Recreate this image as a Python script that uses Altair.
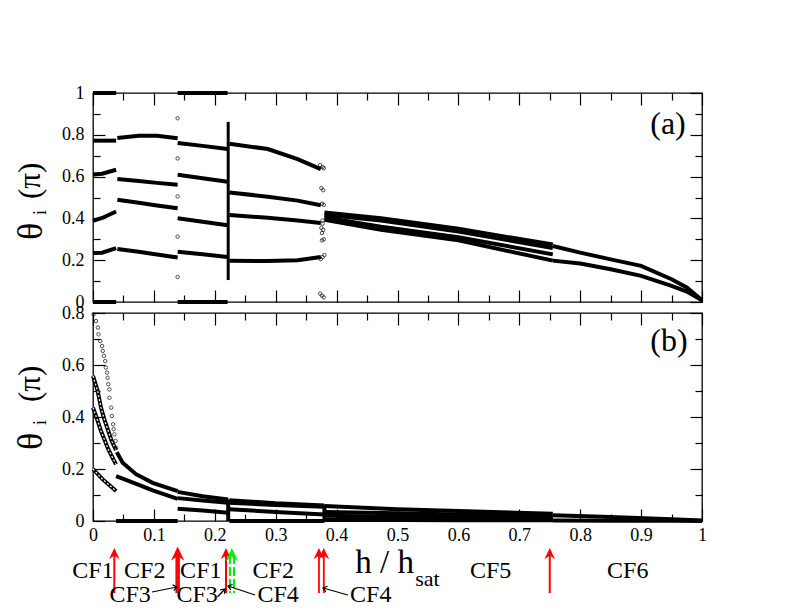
import math
import altair as alt
import pandas as pd

FONT = "Liberation Serif"
PW, HA, HB = 609, 209, 208

# ---------------- axis tick values ----------------
X_MAJOR = [0, 0.1, 0.2, 0.3, 0.4, 0.5, 0.6, 0.7, 0.8, 0.9, 1.0]
X_MINOR = [0.05, 0.15, 0.25, 0.35, 0.45, 0.55, 0.65, 0.75, 0.85, 0.95]
YA_MAJOR = [0, 0.2, 0.4, 0.6, 0.8, 1.0]
YA_MINOR = [0.1, 0.3, 0.5, 0.7, 0.9]
YB_MAJOR = [0, 0.2, 0.4, 0.6, 0.8]
YB_MINOR = [0.1, 0.3, 0.5, 0.7]

# ---------------- panel (a) ----------------
A_CF1_X = [0.0, 0.015, 0.038]
A_CF1_Y = [[1.0, 1.0, 1.0], [0.772, 0.772, 0.772], [0.61, 0.614, 0.633],
           [0.388, 0.402, 0.433], [0.235, 0.236, 0.258], [0.0, 0.0, 0.0]]
A_CF2_X = [0.04, 0.075, 0.105, 0.139]
A_CF2_Y = [[0.785, 0.795, 0.795, 0.783], [0.588, 0.579, 0.570, 0.561],
           [0.489, 0.475, 0.462, 0.449], [0.254, 0.240, 0.227, 0.213]]
A_CF1B_X = [0.139, 0.18, 0.221]
A_CF1B_Y = [[1.0, 1.0, 1.0], [0.761, 0.747, 0.732], [0.609, 0.592, 0.575],
            [0.401, 0.384, 0.367], [0.240, 0.228, 0.215], [0.0, 0.0, 0.0]]
A_VERT_X = [0.222, 0.222]
A_VERT_Y = [0.105, 0.862]
A_CF2B_X = [0.224, 0.287, 0.336, 0.374]
A_CF2B_Y = [[0.757, 0.732, 0.684, 0.636], [0.524, 0.504, 0.485, 0.463],
            [0.416, 0.403, 0.390, 0.378], [0.197, 0.196, 0.200, 0.215]]
A_CF5_X = [0.38, 0.473, 0.6, 0.755]
A_CF5_Y = [[0.428, 0.401, 0.350, 0.275], [0.418, 0.390, 0.337, 0.258],
           [0.405, 0.360, 0.310, 0.228], [0.393, 0.346, 0.295, 0.198]]
A_CF6_X = [0.755, 0.8, 0.85, 0.9, 0.95, 0.975, 1.0]
A_CF6_Y = [[0.268, 0.236, 0.204, 0.173, 0.109, 0.070, 0.008],
           [0.198, 0.184, 0.157, 0.125, 0.077, 0.050, 0.008]]
A_SCAT_X = [0.139, 0.139, 0.139, 0.139, 0.139,
            0.373, 0.377, 0.379, 0.375, 0.378, 0.376, 0.379, 0.377, 0.377,
            0.375, 0.378, 0.376, 0.376, 0.379, 0.374, 0.377, 0.380, 0.373, 0.376, 0.379]
A_SCAT_Y = [0.879, 0.687, 0.505, 0.313, 0.120,
            0.655, 0.645, 0.640, 0.545, 0.535, 0.470, 0.465, 0.390, 0.375,
            0.355, 0.345, 0.330, 0.295, 0.300, 0.205, 0.215, 0.225, 0.040, 0.030, 0.022]

# ---------------- panel (b) ----------------
B_OPEN_X = [0.001, 0.005, 0.008, 0.009, 0.012, 0.015, 0.016, 0.018, 0.020, 0.021, 0.023,
            0.024, 0.025, 0.027, 0.027, 0.030, 0.031, 0.033, 0.034, 0.035, 0.037, 0.038]
B_OPEN_Y = [0.795, 0.769, 0.744, 0.718, 0.692, 0.673, 0.654, 0.635, 0.615, 0.590, 0.571,
            0.551, 0.526, 0.506, 0.474, 0.436, 0.404, 0.372, 0.353, 0.333, 0.308, 0.282]
B_HOL1_X = [0.0, 0.0077, 0.0131, 0.0186, 0.0241, 0.0306, 0.0378]
B_HOL1_Y = [0.558, 0.500, 0.436, 0.391, 0.353, 0.308, 0.273]
B_HOL2_X = [0.0, 0.0077, 0.0131, 0.0186, 0.024, 0.0306, 0.0378]
B_HOL2_Y = [0.436, 0.385, 0.346, 0.314, 0.282, 0.250, 0.218]
B_HOL3_X = [0.0, 0.016, 0.038]
B_HOL3_Y = [0.200, 0.160, 0.115]
B_CF2U_X = [0.039, 0.0487, 0.0706, 0.098, 0.139]
B_CF2U_Y = [0.265, 0.224, 0.180, 0.147, 0.115]
B_CF2L_X = [0.038, 0.07, 0.098, 0.139]
B_CF2L_Y = [0.173, 0.144, 0.118, 0.085]
B_ZERO1_X = [0.038, 0.139]
B_ZERO1_Y = [0.0, 0.0]
B_CF1B_X = [0.139, 0.18, 0.222]
B_CF1B_Y = [[0.112, 0.095, 0.083], [0.088, 0.079, 0.070], [0.047, 0.040, 0.032]]
B_VERT1_X = [0.222, 0.222]
B_VERT1_Y = [0.083, 0.0]
B_CF2B_X = [0.224, 0.3, 0.38]
B_CF2B_Y = [[0.080, 0.068, 0.060], [0.070, 0.062, 0.055], [0.045, 0.035, 0.025], [0.0, 0.0, 0.0]]
B_VERT2_X = [0.38, 0.38]
B_VERT2_Y = [0.060, 0.0]
B_CF5_X = [0.38, 0.5, 0.6, 0.755]
B_CF5_Y = [[0.058, 0.045, 0.038, 0.028], [0.035, 0.030, 0.025, 0.018],
           [0.020, 0.016, 0.013, 0.010], [0.004, 0.004, 0.003, 0.003]]
B_CF6_X = [0.755, 0.85, 0.95, 1.0]
B_CF6_Y = [[0.022, 0.015, 0.007, 0.002], [0.002, 0.001, 0.0005, 0.0]]

# ---------------- annotations below the axis ----------------
RED_X = [0.035, 0.139, 0.2184, 0.371, 0.379, 0.75]
RED_W = [2.0, 4.5, 2.0, 1.8, 1.8, 2.0]
RED_HEAD = [140, 220, 140, 140, 140, 140]
GREEN_X = [0.225, 0.2315]
GREEN_HEAD_X = [0.228]
CF_TOP = ["CF1", "CF2", "CF1", "CF2", "CF5", "CF6"]
CF_TOP_X = [0.0, 0.085, 0.177, 0.296, 0.653, 0.878]
CF_BOT = ["CF3", "CF3", "CF4", "CF4"]
CF_BOT_X = [0.061, 0.171, 0.304, 0.456]
BLK_X1 = [0.0969, 0.2044, 0.266, 0.4187]
BLK_Y1 = [279, 284, 282, 282]
BLK_X2 = [0.1379, 0.2167, 0.2217, 0.3777]
BLK_Y2 = [274, 276, 273, 275]


def build(groups):
    rows = []
    for name, xs, ys in groups:
        for i, (x, y) in enumerate(zip(xs, ys)):
            rows.append({"s": name, "o": i, "x": x, "y": y})
    return pd.DataFrame(rows)


XS = alt.Scale(domain=[0, 1], nice=False, zero=False)
YSA = alt.Scale(domain=[0, 1], nice=False, zero=False)
YSB = alt.Scale(domain=[0, 0.8], nice=False, zero=False)


def ax(orient, values, size, labels=False, pad=0):
    kw = dict(orient=orient, values=values, tickSize={"expr": f"-{size}"}, domain=False,
              grid=False, ticks=True, tickColor="black", tickWidth=1.2, labels=labels, title=None)
    if labels:
        kw.update(labelFont=FONT, labelFontSize=18, labelColor="black", labelPadding=size + pad,
                  format="~g", labelFlush=False, labelOverlap=False)
    return alt.Axis(**kw)


def axis_layers(ysc, ymaj, ymin, xlabels, ydummy):
    dummy = pd.DataFrame({"x": [0.5], "y": [ydummy]})
    base = alt.Chart(dummy).mark_point(opacity=0)
    return [
        base.encode(x=alt.X("x:Q", scale=XS, axis=ax("bottom", X_MAJOR, 12, xlabels, 5)),
                    y=alt.Y("y:Q", scale=ysc, axis=ax("left", ymaj, 12, True, 9))),
        base.encode(x=alt.X("x:Q", scale=XS, axis=ax("bottom", X_MINOR, 7)),
                    y=alt.Y("y:Q", scale=ysc, axis=ax("left", ymin, 7))),
        base.encode(x=alt.X("x:Q", scale=XS, axis=ax("top", X_MAJOR, 12)),
                    y=alt.Y("y:Q", scale=ysc, axis=ax("right", ymaj, 12))),
        base.encode(x=alt.X("x:Q", scale=XS, axis=ax("top", X_MINOR, 7)),
                    y=alt.Y("y:Q", scale=ysc, axis=ax("right", ymin, 7))),
    ]


def line_layer(df, ysc, width, color="black", dash=None):
    kw = dict(color=color, strokeWidth=width)
    if dash:
        kw["strokeDash"] = dash
    return alt.Chart(df).mark_line(**kw).encode(
        x=alt.X("x:Q", scale=XS, axis=None),
        y=alt.Y("y:Q", scale=ysc, axis=None),
        detail="s:N", order="o:Q")


def pixel_text(df):
    return alt.Chart(df).mark_text(font=FONT, color="black", angle=270, align="left",
                                   baseline="middle").encode(
        x=alt.X("px:Q", scale=None, axis=None), y=alt.Y("py:Q", scale=None, axis=None),
        size=alt.Size("fs:Q", scale=None, legend=None), text="t:N")


# ---------- panel (a) data frame ----------
ga = []
for k, ys in enumerate(A_CF1_Y):
    ga.append((f"cf1_{k}", A_CF1_X, ys))
for k, ys in enumerate(A_CF2_Y):
    ga.append((f"cf2_{k}", A_CF2_X, ys))
for k, ys in enumerate(A_CF1B_Y):
    ga.append((f"cf1b_{k}", A_CF1B_X, ys))
for k, ys in enumerate(A_CF2B_Y):
    ga.append((f"cf2b_{k}", A_CF2B_X, ys))
for k, ys in enumerate(A_CF5_Y):
    ga.append((f"cf5_{k}", A_CF5_X, ys))
for k, ys in enumerate(A_CF6_Y):
    ga.append((f"cf6_{k}", A_CF6_X, ys))
dfA = build(ga)
dfAv = build([("vert", A_VERT_X, A_VERT_Y)])
dfAs = pd.DataFrame({"x": A_SCAT_X, "y": A_SCAT_Y})

titleA = pd.DataFrame({"t": ["θ", "i", "(π)"], "px": [-62, -52, -62], "py": [147, 122, 106],
                       "fs": [36, 18, 31]})
labA = pd.DataFrame({"t": ["(a)"], "px": [575], "py": [31]})

panelA = alt.layer(
    *axis_layers(YSA, YA_MAJOR, YA_MINOR, False, 0.5),
    line_layer(dfA, YSA, 4),
    line_layer(dfAv, YSA, 3),
    alt.Chart(dfAs).mark_point(shape="circle", filled=False, color="black", size=12,
                               strokeWidth=1).encode(
        x=alt.X("x:Q", scale=XS, axis=None), y=alt.Y("y:Q", scale=YSA, axis=None)),
    pixel_text(titleA),
    alt.Chart(labA).mark_text(font=FONT, fontSize=32, color="black").encode(
        x=alt.X("px:Q", scale=None, axis=None), y=alt.Y("py:Q", scale=None, axis=None),
        text="t:N"),
).resolve_scale(x="shared", y="shared").resolve_axis(x="independent", y="independent").properties(
    width=PW, height=HA)

# ---------- panel (b) data frames ----------
gb = [("u", B_CF2U_X, B_CF2U_Y), ("l", B_CF2L_X, B_CF2L_Y), ("z1", B_ZERO1_X, B_ZERO1_Y),
      ("v1", B_VERT1_X, B_VERT1_Y), ("v2", B_VERT2_X, B_VERT2_Y)]
for k, ys in enumerate(B_CF1B_Y):
    gb.append((f"cf1b_{k}", B_CF1B_X, ys))
for k, ys in enumerate(B_CF2B_Y):
    gb.append((f"cf2b_{k}", B_CF2B_X, ys))
for k, ys in enumerate(B_CF5_Y):
    gb.append((f"cf5_{k}", B_CF5_X, ys))
for k, ys in enumerate(B_CF6_Y):
    gb.append((f"cf6_{k}", B_CF6_X, ys))
dfB = build(gb)
dfBh = build([("h1", B_HOL1_X, B_HOL1_Y), ("h2", B_HOL2_X, B_HOL2_Y), ("h3", B_HOL3_X, B_HOL3_Y)])
dfBo = pd.DataFrame({"x": B_OPEN_X, "y": B_OPEN_Y})

titleB = pd.DataFrame({"t": ["θ", "i", "(π)"], "px": [-62, -52, -62], "py": [137, 112, 89],
                       "fs": [36, 18, 31]})
labB = pd.DataFrame({"t": ["(b)"], "px": [576], "py": [28]})

dfRed = pd.DataFrame({"x": RED_X, "w": RED_W, "hs": RED_HEAD})
dfGreen = pd.DataFrame({"x": GREEN_X})
dfGreenHead = pd.DataFrame({"x": GREEN_HEAD_X})
dfCfTop = pd.DataFrame({"t": CF_TOP, "x": CF_TOP_X})
dfCfBot = pd.DataFrame({"t": CF_BOT, "x": CF_BOT_X})
blk_ang = []
for x1, y1, x2, y2 in zip(BLK_X1, BLK_Y1, BLK_X2, BLK_Y2):
    a = math.degrees(math.atan2(y2 - y1, (x2 - x1) * PW)) % 360
    blk_ang.append(a)
dfBlk = pd.DataFrame({"x1": BLK_X1, "y1": BLK_Y1, "x2": BLK_X2, "y2": BLK_Y2, "ang": blk_ang})
dfXT = pd.DataFrame({"t": ["h / h"], "x": [0.527], "y": [260]})
dfXS = pd.DataFrame({"t": ["sat"], "x": [0.529], "y": [273]})

HEAD = "M0,-1 L0.9,0.9 L0,0.25 L-0.9,0.9 Z"
OPEN_HEAD = "M-1,-0.75 L0,0 L-1,0.75"

xdat = alt.X("x:Q", scale=XS, axis=None)

panelB = alt.layer(
    *axis_layers(YSB, YB_MAJOR, YB_MINOR, True, 0.4),
    line_layer(dfB, YSB, 4),
    line_layer(dfBh, YSB, 4),
    line_layer(dfBh, YSB, 1.2, color="white", dash=[2, 2]),
    alt.Chart(dfBo).mark_point(shape="circle", filled=False, color="black", size=12,
                               strokeWidth=1).encode(
        x=xdat, y=alt.Y("y:Q", scale=YSB, axis=None)),
    pixel_text(titleB),
    alt.Chart(labB).mark_text(font=FONT, fontSize=32, color="black").encode(
        x=alt.X("px:Q", scale=None, axis=None), y=alt.Y("py:Q", scale=None, axis=None),
        text="t:N"),
    alt.Chart(dfRed).mark_rule(color="#ff0000").encode(
        x=xdat, y=alt.value(241), y2=alt.value(280),
        size=alt.Size("w:Q", scale=None, legend=None)),
    alt.Chart(dfRed).mark_point(shape=HEAD, filled=True, color="#ff0000", opacity=1).encode(
        x=xdat, y=alt.value(241), size=alt.Size("hs:Q", scale=None, legend=None)),
    alt.Chart(dfGreen).mark_rule(color="#00ee00", strokeWidth=2, strokeDash=[9, 3]).encode(
        x=xdat, y=alt.value(242), y2=alt.value(280)),
    alt.Chart(dfGreenHead).mark_point(shape=HEAD, filled=True, color="#00ee00", opacity=1,
                                      size=190).encode(x=xdat, y=alt.value(242)),
    alt.Chart(dfBlk).mark_rule(color="black", strokeWidth=1.2).encode(
        x=alt.X("x1:Q", scale=XS, axis=None), x2="x2:Q",
        y=alt.Y("y1:Q", scale=None, axis=None), y2="y2:Q"),
    alt.Chart(dfBlk).mark_point(shape=OPEN_HEAD, filled=False, color="black", strokeWidth=1.2,
                                size=60, opacity=1).encode(
        x=alt.X("x2:Q", scale=XS, axis=None), y=alt.Y("y2:Q", scale=None, axis=None),
        angle=alt.Angle("ang:Q", scale=None)),
    alt.Chart(dfCfTop).mark_text(font=FONT, fontSize=24, color="black", baseline="alphabetic").encode(
        x=xdat, y=alt.value(265), text="t:N"),
    alt.Chart(dfCfBot).mark_text(font=FONT, fontSize=24, color="black", baseline="alphabetic").encode(
        x=xdat, y=alt.value(289), text="t:N"),
    alt.Chart(dfXT).mark_text(font=FONT, fontSize=33, color="black", align="right",
                              baseline="alphabetic").encode(
        x=xdat, y=alt.Y("y:Q", scale=None, axis=None), text="t:N"),
    alt.Chart(dfXS).mark_text(font=FONT, fontSize=22, color="black", align="left",
                              baseline="alphabetic").encode(
        x=xdat, y=alt.Y("y:Q", scale=None, axis=None), text="t:N"),
).resolve_scale(x="shared", y="shared").resolve_axis(x="independent", y="independent").properties(
    width=PW, height=HB)

chart = alt.vconcat(panelA, panelB, spacing=11, bounds="flush").properties(
    padding={"left": 4, "top": 75, "right": 5, "bottom": 0},
    background="white",
).configure_view(stroke="black", strokeWidth=1.3)

chart.save("out.html", embed_options={"renderer": "svg", "actions": False})
